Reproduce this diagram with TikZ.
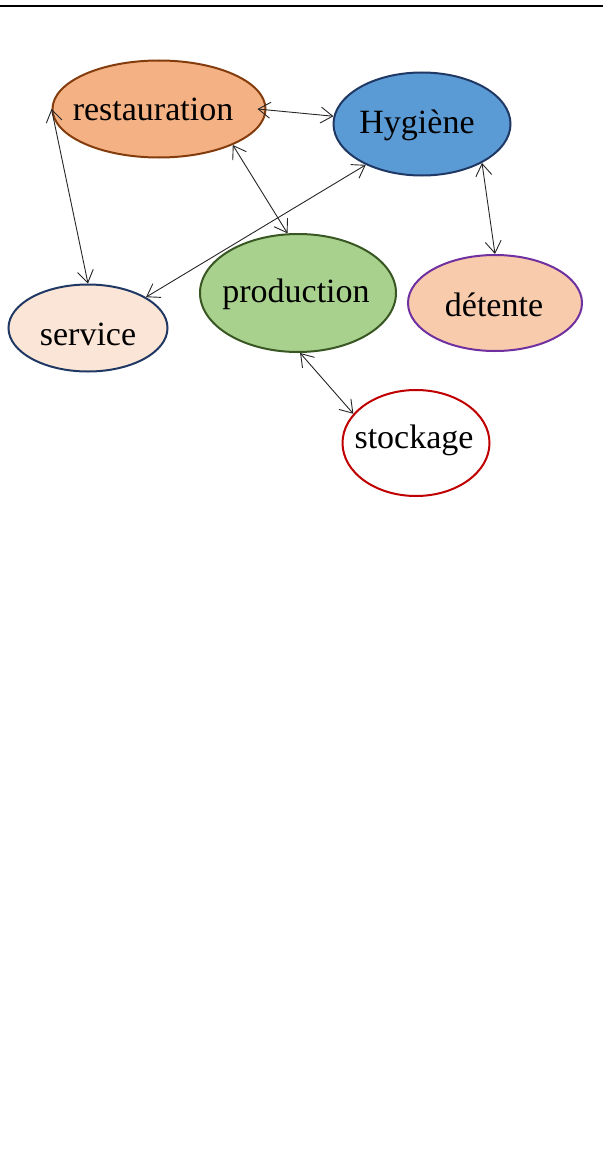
\documentclass[tikz,border=0pt]{standalone}
\usepackage{fontspec}
\setmainfont{Liberation Serif}
\usetikzlibrary{shapes.geometric,arrows.meta}
\definecolor{restfill}{HTML}{F4B183}
\definecolor{restline}{HTML}{843C0C}
\definecolor{hygfill}{HTML}{5B9BD5}
\definecolor{hygline}{HTML}{1F3864}
\definecolor{detfill}{HTML}{F8CBAD}
\definecolor{detline}{HTML}{7030A0}
\definecolor{servfill}{HTML}{FBE5D6}
\definecolor{servline}{HTML}{203864}
\definecolor{prodfill}{HTML}{A9D18E}
\definecolor{prodline}{HTML}{385723}
\definecolor{stockline}{HTML}{C00000}
% word set with its baseline lowered by #2 and moved right by #1,
% occupying no space so the ellipse keeps its own size
\newcommand\bubbletext[3]{\raisebox{-#2}[0pt][0pt]{\makebox[0pt]{\hspace*{#1}\hspace*{#1}#3}}}
\begin{document}
\begin{tikzpicture}[x=1pt,y=-1pt,
  bubble/.style={ellipse, draw, line width=2pt, inner sep=0pt,
    font=\fontsize{34}{40}\selectfont},
  link/.style={draw=black!85, line width=0.9pt,
    {Straight Barb[length=12pt,width=16pt]}-{Straight Barb[length=12pt,width=16pt]}}]
\useasboundingbox (0,0) rectangle (603,1172);
% header rule
\draw[line width=2pt] (0,6) -- (603,6);
% activity bubbles
\node[bubble, fill=restfill, draw=restline, minimum width=213pt, minimum height=97pt]
  (rest) at (159,109) {\bubbletext{-6pt}{11pt}{restauration}};
\node[bubble, fill=hygfill, draw=hygline, minimum width=177pt, minimum height=103pt]
  (hyg) at (422,124) {\bubbletext{-5pt}{9.5pt}{Hygiène}};
\node[bubble, fill=detfill, draw=detline, minimum width=174pt, minimum height=96pt]
  (det) at (495,303) {\bubbletext{-1pt}{13pt}{détente}};
\node[bubble, fill=servfill, draw=servline, minimum width=159pt, minimum height=87pt]
  (serv) at (88,328) {\bubbletext{0pt}{17pt}{service}};
\node[bubble, fill=prodfill, draw=prodline, minimum width=196pt, minimum height=118pt]
  (prod) at (298,293) {\bubbletext{-2pt}{9pt}{production}};
\node[bubble, fill=white, draw=stockline, minimum width=147pt, minimum height=106pt]
  (stock) at (416,443) {\bubbletext{-2pt}{5pt}{stockage}};
% two-way links
\path[link] ([xshift=-9pt]rest.east) -- (hyg.175);
\path[link] (rest.west) -- (serv.north);
\path[link] (rest.-26) -- (prod.100);
\path[link] (hyg.-144) -- (serv.28);
\path[link] (hyg.-33) -- (det.north);
\path[link] (prod.-88) -- (stock.155);
\end{tikzpicture}
\end{document}
